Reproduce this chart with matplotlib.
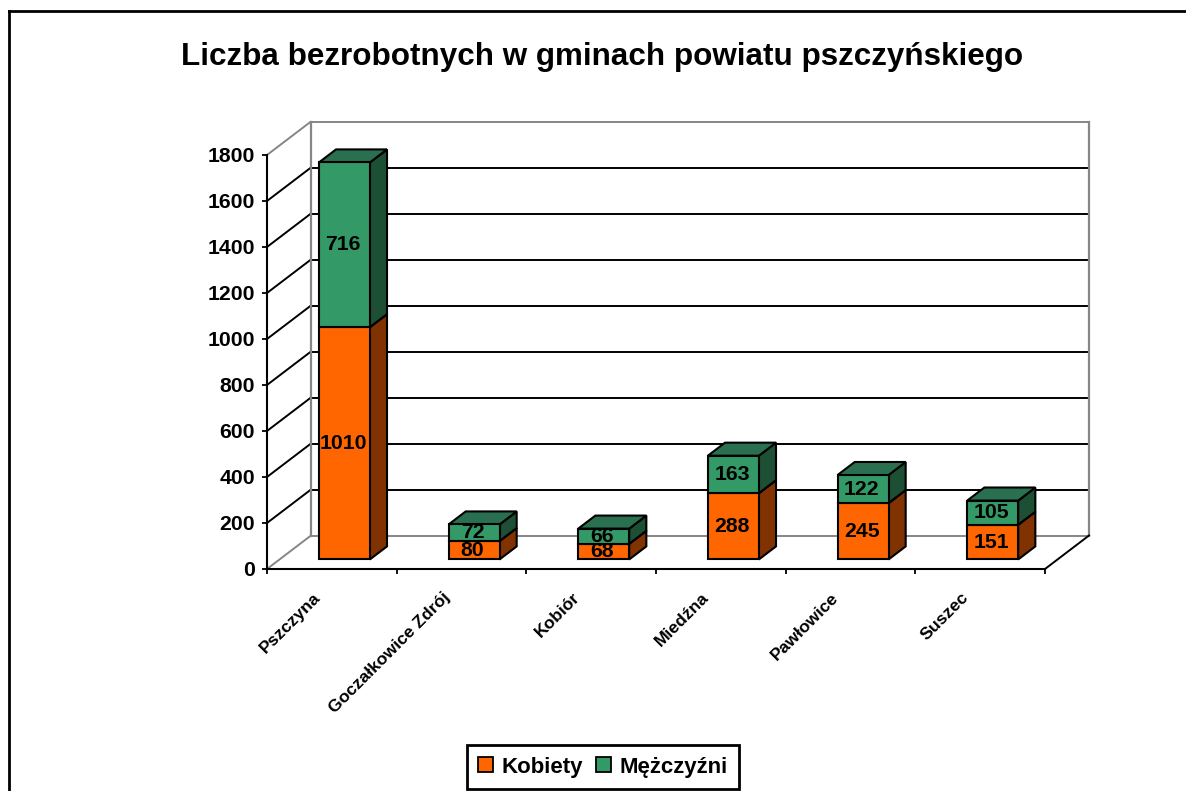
import matplotlib
matplotlib.use("Agg")
import matplotlib.pyplot as plt
from matplotlib.lines import Line2D
from matplotlib.patches import Patch, Polygon

plt.rcParams["font.family"] = ["Liberation Sans", "DejaVu Sans"]
plt.rcParams["font.weight"] = "bold"

title = "Liczba bezrobotnych w gminach powiatu pszczyńskiego"
gminy = ["Pszczyna", "Goczałkowice Zdrój", "Kobiór", "Miedźna", "Pawłowice", "Suszec"]
kobiety = [1010, 80, 68, 288, 245, 151]
mezczyzni = [716, 72, 66, 163, 122, 105]
y_ticks = [0, 200, 400, 600, 800, 1000, 1200, 1400, 1600, 1800]

W, H = 1186, 791
DEPTH_X = 44 / (778 / 6)  # glebokosc sceny w jednostkach kategorii
DEPTH_Y = 33.5 / (414 / 1800)  # i w jednostkach wartosci
BAR_W = 0.393
D0, D1 = 0.285, 0.675

ORANGE = ("#FF6600", "#B84A00", "#803300")
GREEN = ("#339966", "#2A7050", "#1C4F33")
GRAY = "#868686"


def shift(x, y, d):
    """punkt (x, y) przesuniety w glab sceny o d (0-1)"""
    return x + d * DEPTH_X, y + d * DEPTH_Y


def draw_box(ax, x0, x1, y0, y1, colors, z):
    """slupek 3D: przod, gora, bok"""
    front = [shift(x0, y0, D0), shift(x1, y0, D0), shift(x1, y1, D0), shift(x0, y1, D0)]
    top = [shift(x0, y1, D0), shift(x1, y1, D0), shift(x1, y1, D1), shift(x0, y1, D1)]
    side = [shift(x1, y0, D0), shift(x1, y0, D1), shift(x1, y1, D1), shift(x1, y1, D0)]
    for pts, c in zip([side, top, front], [colors[2], colors[1], colors[0]]):
        ax.add_patch(Polygon(pts, closed=True, facecolor=c, edgecolor="black",
                             linewidth=1.5, joinstyle="miter", clip_on=False, zorder=z))


def bar_label(ax, value, x, y):
    """etykieta wartosci na przedniej scianie slupka"""
    ax.annotate(str(value), (x, y), xytext=(-1, 0), textcoords="offset points",
                ha="center", va="center", fontsize=15.3, zorder=20, annotation_clip=False)


fig = plt.figure(figsize=(W / 100, H / 100), dpi=100, facecolor="white")
ax = fig.add_axes([267 / W, (H - 569) / H, 778 / W, 414 / H])
ax.patch.set_visible(False)
ax.set_xlim(0, 6)
ax.set_ylim(0, 1800)

# ramka wykresu
fig.add_artist(Line2D([9 / W, 9 / W], [0, 1 - 11 / H], color="black", lw=2))
fig.add_artist(Line2D([9 / W, 1], [1 - 11 / H, 1 - 11 / H], color="black", lw=2))

# sciany i siatka
for v in y_ticks:
    c = GRAY if v in (0, 1800) else "black"
    z = 1 if v == 0 else 2
    ax.plot([0, DEPTH_X], [v, v + DEPTH_Y], color=c, lw=1.4, clip_on=False, zorder=z,
            solid_capstyle="butt")
    ax.plot([DEPTH_X, 6 + DEPTH_X], [v + DEPTH_Y, v + DEPTH_Y], color=c, lw=1.4,
            clip_on=False, zorder=z, solid_capstyle="butt")
ax.plot([DEPTH_X, DEPTH_X], [DEPTH_Y, 1800 + DEPTH_Y], color=GRAY, lw=1.6, clip_on=False, zorder=2)
ax.plot([6 + DEPTH_X, 6 + DEPTH_X], [DEPTH_Y, 1800 + DEPTH_Y], color=GRAY, lw=1.6, clip_on=False, zorder=2)
ax.plot([6, 6 + DEPTH_X], [0, DEPTH_Y], color="black", lw=1.4, clip_on=False, zorder=2)

# slupki
for i, (k, m) in enumerate(zip(kobiety, mezczyzni)):
    x0 = i + 0.5 - BAR_W / 2
    x1 = i + 0.5 + BAR_W / 2
    z = 3 + i
    draw_box(ax, x0, x1, 0, k, ORANGE, z)
    draw_box(ax, x0, x1, k, k + m, GREEN, z + 0.1)
    bar_label(ax, k, *shift(i + 0.5, k / 2, D0))
    bar_label(ax, m, *shift(i + 0.5, k + m / 2, D0))

# osie
for s in ["top", "right"]:
    ax.spines[s].set_visible(False)
for s in ["left", "bottom"]:
    ax.spines[s].set_linewidth(1.5)
    ax.spines[s].set_zorder(2.5)
ax.set_yticks(y_ticks)
ax.tick_params(axis="y", labelsize=15.3, length=3.6, width=1.3, pad=5)
ax.set_xticks(range(7))
ax.set_xticklabels([])
ax.tick_params(axis="x", length=3.6, width=1.3)
for i, g in enumerate(gminy):
    ax.annotate(g, (i + 0.5, 0), xytext=(-14, -15), textcoords="offset points",
                rotation=45, rotation_mode="anchor", ha="right", va="top",
                fontsize=12.6, annotation_clip=False)

fig.text(602 / W, 1 - 57 / H, title, ha="center", va="center", fontsize=22.6)

handles = [Patch(facecolor=ORANGE[0], edgecolor="black", linewidth=1.3, label="Kobiety"),
           Patch(facecolor=GREEN[0], edgecolor="black", linewidth=1.3, label="Mężczyźni")]
leg = fig.legend(handles=handles, ncols=2, loc="center", bbox_to_anchor=(603 / W, 1 - 767 / H),
                 fontsize=16, fancybox=False, framealpha=1, edgecolor="black",
                 handlelength=0.66, handleheight=0.66, handletextpad=0.4, columnspacing=0.6,
                 borderpad=0.5, borderaxespad=0)
leg.get_frame().set_linewidth(2)

fig.savefig("out.png", dpi=100)
plt.close(fig)
